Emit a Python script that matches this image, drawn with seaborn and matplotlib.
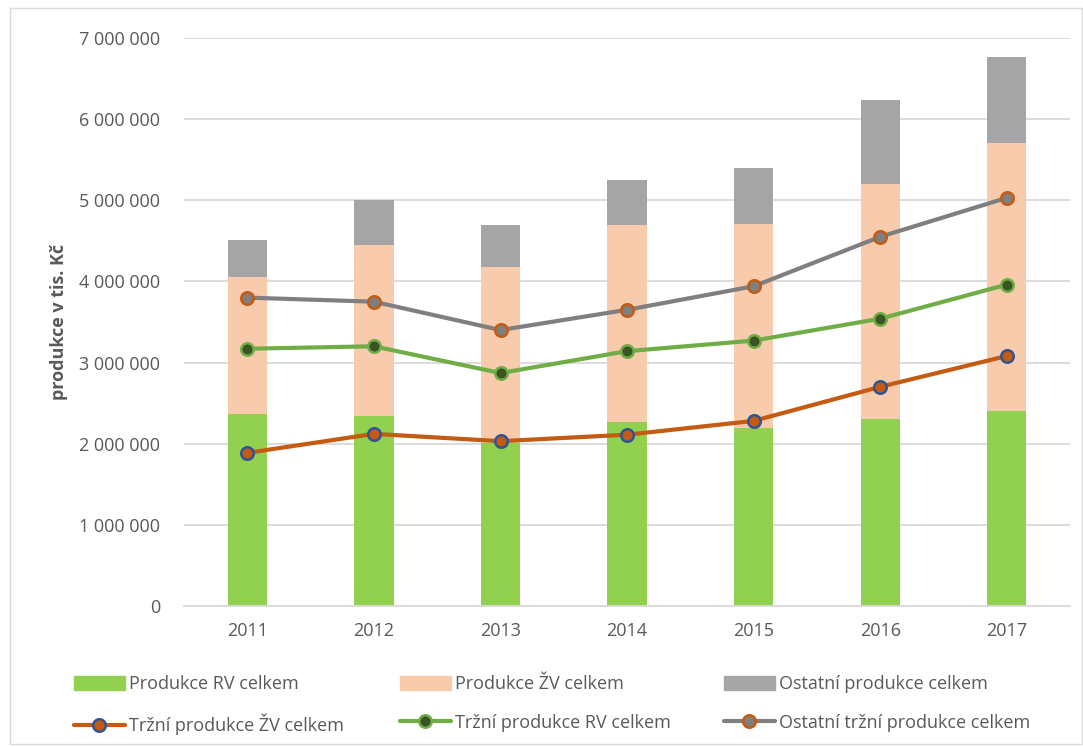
import numpy as np
import pandas as pd
import seaborn as sns
import matplotlib.pyplot as plt
from matplotlib.lines import Line2D
from matplotlib.patches import Patch, Rectangle

# values in thousands of CZK
years = ['2011', '2012', '2013', '2014', '2015', '2016', '2017']
produkce_rv = [2370000, 2340000, 2010000, 2270000, 2190000, 2300000, 2400000]
produkce_zv = [1685000, 2110000, 2170000, 2430000, 2520000, 2900000, 3310000]
ostatni_produkce = [455000, 550000, 520000, 550000, 690000, 1040000, 1060000]
trzni_zv = [1886000, 2120000, 2030000, 2110000, 2280000, 2700000, 3080000]
trzni_rv = [3170000, 3200000, 2870000, 3140000, 3270000, 3540000, 3960000]
ostatni_trzni = [3800000, 3750000, 3400000, 3650000, 3940000, 4550000, 5030000]

df = pd.DataFrame({'rok': years, 'rv': produkce_rv, 'zv': produkce_zv, 'ost': ostatni_produkce})
df['rv_zv'] = df['rv'] + df['zv']
df['celkem'] = df['rv_zv'] + df['ost']

sns.set_style('white')
plt.rcParams['font.family'] = ['Open Sans', 'DejaVu Sans']

c_rv = '#92D050'
c_zv = '#F8CBAD'
c_ost = '#A5A5A5'
txt = '#595959'

fig = plt.figure(figsize=(10.83, 7.47), dpi=100)
ax = fig.add_axes([0.170, 0.189, 0.818, 0.760])

# stacked bars: draw totals first, then overlay lower parts
bar_kw = dict(saturation=1, width=0.31, linewidth=0, ax=ax, zorder=2)
sns.barplot(data=df, x='rok', y='celkem', color=c_ost, **bar_kw)
sns.barplot(data=df, x='rok', y='rv_zv', color=c_zv, **bar_kw)
sns.barplot(data=df, x='rok', y='rv', color=c_rv, **bar_kw)

xpos = np.arange(len(years))
line_kw = dict(linewidth=3, marker='o', markersize=9, markeredgewidth=1.8, zorder=4)
sns.lineplot(x=xpos, y=trzni_zv, color='#C55A11', markerfacecolor='#C55A11',
             markeredgecolor='#2F5597', ax=ax, **line_kw)
sns.lineplot(x=xpos, y=trzni_rv, color='#70AD47', markerfacecolor='#375623',
             markeredgecolor='#70AD47', ax=ax, **line_kw)
sns.lineplot(x=xpos, y=ostatni_trzni, color='#7F7F7F', markerfacecolor='#7F7F7F',
             markeredgecolor='#C55A11', ax=ax, **line_kw)

ax.set_xlim(-0.5, len(years) - 0.5)
ax.set_ylim(0, 7000000)
ax.set_yticks(np.arange(0, 7000001, 1000000))
ax.set_yticklabels([f'{v:,}'.replace(',', ' ') for v in range(0, 7000001, 1000000)])
ax.yaxis.grid(True, color='#D9D9D9', linewidth=1.3, zorder=0)
ax.set_axisbelow(True)
for s in ['top', 'right', 'left']:
    ax.spines[s].set_visible(False)
ax.spines['bottom'].set_color('#D9D9D9')
ax.spines['bottom'].set_linewidth(1.3)
ax.tick_params(axis='both', length=0, labelsize=13, labelcolor=txt)
ax.tick_params(axis='y', pad=17)
ax.tick_params(axis='x', pad=12)
ax.set_xlabel('')
ax.set_ylabel('produkce v tis. Kč', fontsize=13, fontweight='bold', color=txt, labelpad=8)

# legend: three columns placed explicitly (bar in top row, line below)
def line_handle(c, fc, ec, label):
    return Line2D([], [], color=c, lw=3, marker='o', ms=9, mfc=fc, mec=ec, mew=1.8, label=label)

columns = [
    [Patch(color=c_rv, label='Produkce RV celkem'),
     line_handle('#C55A11', '#C55A11', '#2F5597', 'Tržní produkce ŽV celkem')],
    [Patch(color=c_zv, label='Produkce ŽV celkem'),
     line_handle('#70AD47', '#375623', '#70AD47', 'Tržní produkce RV celkem')],
    [Patch(color=c_ost, label='Ostatní produkce celkem'),
     line_handle('#7F7F7F', '#7F7F7F', '#C55A11', 'Ostatní tržní produkce celkem')],
]
col_x = [74, 400, 724]
for hx, hs in zip(col_x, columns):
    fig.legend(handles=hs, loc='upper left', bbox_to_anchor=(hx / 1083, 1 - 675 / 747),
               frameon=False, fontsize=13, labelcolor=txt, handlelength=2.8, handleheight=0.8,
               handletextpad=0.25, labelspacing=1.15, borderpad=0, borderaxespad=0)

# light outer frame of the chart area
fig.patches.append(Rectangle((0.009, 0.004), 0.99, 0.985, transform=fig.transFigure,
                             fill=False, edgecolor='#D9D9D9', linewidth=1))

fig.savefig('out.png', dpi=100)
